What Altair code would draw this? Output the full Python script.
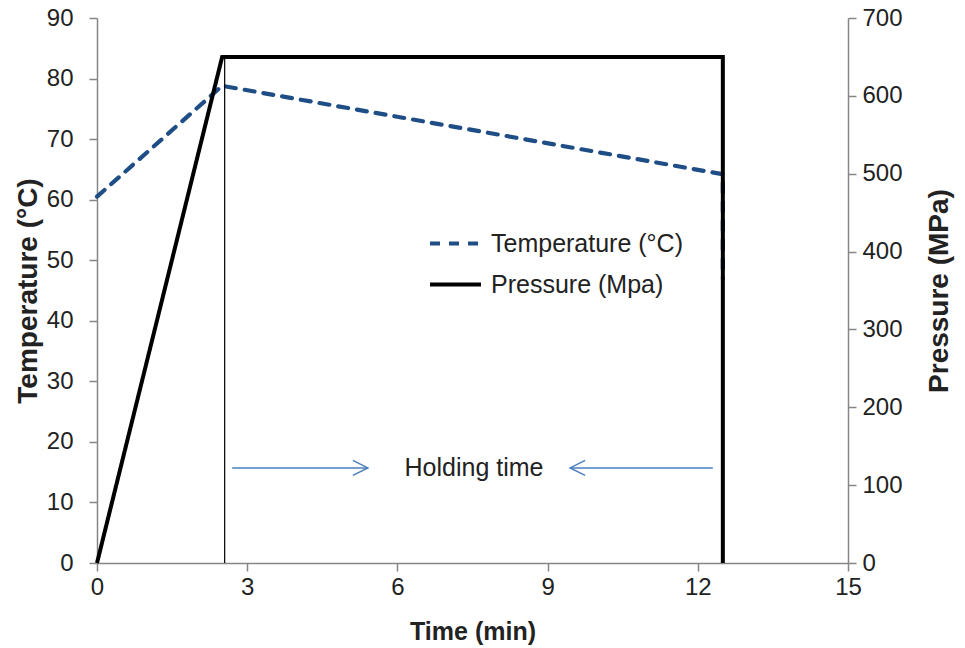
import altair as alt
import pandas as pd

# ---- data ----
temp_time = [0, 2.5, 12.5, 12.5]
temp_values = [60.5, 78.8, 64.2, 47]
pres_time = [0, 2.5, 12.5, 12.5]
pres_values = [0, 650, 650, 0]
hold_marker_time = [2.55, 2.55]
hold_marker_pres = [0, 650]
series_names = ["Temperature (°C)", "Pressure (Mpa)"]
arrow_right_x = [2.7, 5.41]
arrow_left_x = [12.3, 9.45]
arrow_level = 15.7
label_x = 7.53
label_text = "Holding time"

FONT = "Liberation Sans, Arial, sans-serif"
BLUE = "#1f4e87"
ARROW = "#4a7ebb"

temp_df = pd.DataFrame({"t": temp_time, "v": temp_values,
                        "idx": range(len(temp_time)), "series": series_names[0]})
pres_df = pd.DataFrame({"t": pres_time, "v": pres_values,
                        "idx": range(len(pres_time)), "series": series_names[1]})
rule_df = pd.DataFrame({"t": [hold_marker_time[0]], "v": [hold_marker_pres[0]],
                        "v1": [hold_marker_pres[1]]})
arrow_r_df = pd.DataFrame({"t": arrow_right_x, "v": [arrow_level] * 2})
arrow_l_df = pd.DataFrame({"t": arrow_left_x, "v": [arrow_level] * 2})
head_r_df = pd.DataFrame({"t": [arrow_right_x[1]], "v": [arrow_level]})
head_l_df = pd.DataFrame({"t": [arrow_left_x[1]], "v": [arrow_level]})
text_df = pd.DataFrame({"t": [label_x], "v": [arrow_level], "label": [label_text]})

x_scale = alt.Scale(domain=[0, 15], nice=False, zero=False)
x_axis = alt.Axis(values=[0, 3, 6, 9, 12, 15], title="Time (min)", grid=False,
                  labelFontSize=24, titleFontSize=25, titleFontWeight="bold",
                  labelPadding=4, titlePadding=20, labelFlush=False)
x_enc = alt.X("t:Q", scale=x_scale, axis=x_axis, title="Time (min)")

left_scale = alt.Scale(domain=[0, 90], nice=False)
left_axis = alt.Axis(values=list(range(0, 91, 10)), title="Temperature (°C)", grid=False,
                     orient="left", labelFontSize=24, titleFontSize=28,
                     titleFontWeight="bold", labelPadding=16, titlePadding=4)
right_scale = alt.Scale(domain=[0, 700], nice=False)
right_axis = alt.Axis(values=list(range(0, 701, 100)), title="Pressure (MPa)", grid=False,
                      orient="right", labelFontSize=24, titleFontSize=28,
                      titleFontWeight="bold", labelPadding=6, titlePadding=23,
                      titleAngle=270, titleBaseline="top")

y_left = alt.Y("v:Q", scale=left_scale, axis=left_axis, title="Temperature (°C)")
y_right = alt.Y("v:Q", scale=right_scale, axis=right_axis, title="Pressure (MPa)")

color_scale = alt.Scale(domain=series_names, range=[BLUE, "black"])
dash_scale = alt.Scale(domain=series_names, range=[[10, 9], [1, 0]])
legend = alt.Legend(title=None, orient="none", legendX=331, legendY=198,
                    symbolType="stroke", symbolSize=2600, symbolStrokeWidth=4,
                    labelFontSize=25, labelFont=FONT, labelColor="#222", labelLimit=400,
                    rowPadding=0, labelOffset=8)

temp_line = alt.Chart(temp_df).mark_line(strokeWidth=4.2, strokeCap="round").encode(
    x=x_enc, y=y_left,
    color=alt.Color("series:N", scale=color_scale, legend=legend),
    strokeDash=alt.StrokeDash("series:N", scale=dash_scale, legend=legend),
    order="idx:Q",
)

arrow_r = alt.Chart(arrow_r_df).mark_line(color=ARROW, strokeWidth=1.5).encode(
    x=x_enc, y=y_left)
arrow_l = alt.Chart(arrow_l_df).mark_line(color=ARROW, strokeWidth=1.5).encode(
    x=x_enc, y=y_left)
head_r = alt.Chart(head_r_df).mark_point(
    shape="M-2,-1L0,0L-2,1", size=225, filled=False, stroke=ARROW, strokeWidth=1.5,
    opacity=1).encode(x=x_enc, y=y_left)
head_l = alt.Chart(head_l_df).mark_point(
    shape="M2,-1L0,0L2,1", size=225, filled=False, stroke=ARROW, strokeWidth=1.5,
    opacity=1).encode(x=x_enc, y=y_left)
hold_text = alt.Chart(text_df).mark_text(
    fontSize=25, font=FONT, color="#222", align="center", baseline="middle").encode(
    x=x_enc, y=y_left, text="label:N")

left_group = alt.layer(temp_line, arrow_r, arrow_l, head_r, head_l, hold_text)

pres_line = alt.Chart(pres_df).mark_line(strokeWidth=4).encode(
    x=x_enc, y=y_right,
    color=alt.Color("series:N", scale=color_scale, legend=legend),
    strokeDash=alt.StrokeDash("series:N", scale=dash_scale, legend=legend),
    order="idx:Q",
)
hold_rule = alt.Chart(rule_df).mark_rule(color="black", strokeWidth=1.2).encode(
    x=x_enc, y=y_right, y2="v1:Q",
)
right_group = alt.layer(pres_line, hold_rule)

chart = alt.layer(left_group, right_group).resolve_scale(y="independent").properties(
    width=751, height=545,
    autosize=alt.AutoSizeParams(type="none"),
    padding={"left": 97, "top": 18, "right": 117, "bottom": 85},
    background="white",
).configure_view(stroke=None).configure_axis(
    domainColor="#868686", tickColor="#868686", domainWidth=1.5, tickWidth=1.5,
    tickSize=8, labelColor="#222", titleColor="#222", labelFont=FONT, titleFont=FONT,
)

chart.save("out.html", embed_options={"renderer": "svg", "actions": False})
